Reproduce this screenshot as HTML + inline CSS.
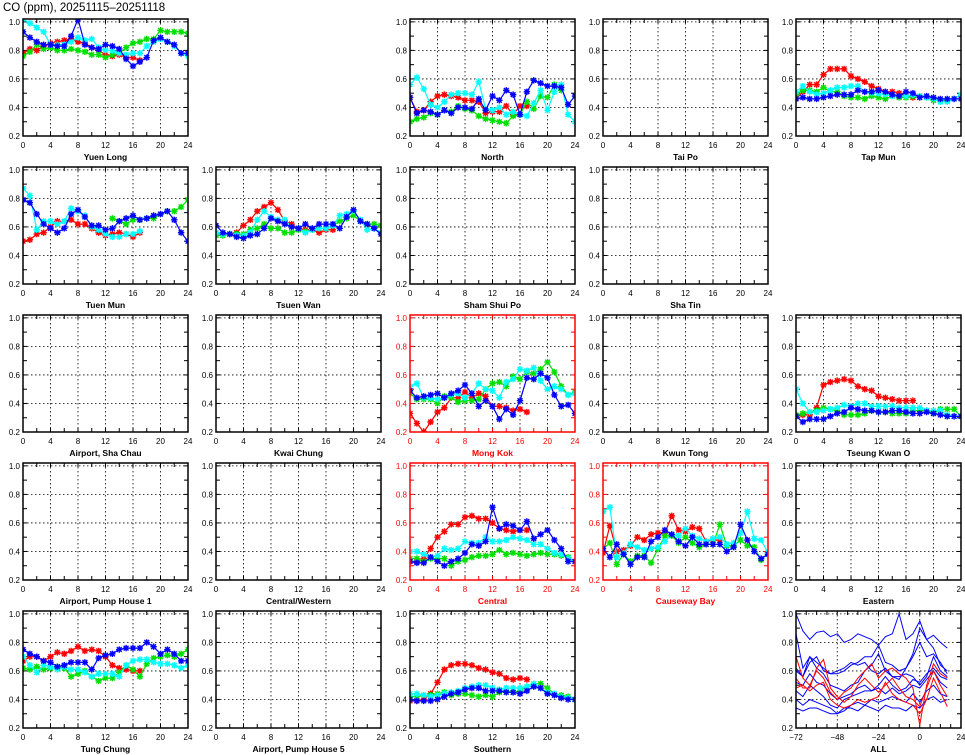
<!DOCTYPE html>
<html><head><meta charset="utf-8"><title>CO (ppm)</title>
<style>
html,body{margin:0;padding:0;background:#fff;}
svg{display:block;font-family:"Liberation Sans",sans-serif;}
</style></head>
<body>
<svg id="chart" width="965" height="755" viewBox="0 0 965 755" xmlns="http://www.w3.org/2000/svg">
<text x="3" y="11" font-size="11.5" fill="#000">CO (ppm), 20251115–20251118</text>
</svg>
<script>
const N=null;
const yTicks=[0.2,0.4,0.6,0.8,1.0];
const yTickLabels=["0.2","0.4","0.6","0.8","1.0"];
const xTicks=[0,4,8,12,16,20,24];
const allXTicks=[-72,-48,-24,0,24];
const stationNames=["Yuen Long","North","Tai Po","Tap Mun","Tuen Mun","Tsuen Wan","Sham Shui Po","Sha Tin","Airport, Sha Chau","Kwai Chung","Mong Kok","Kwun Tong","Tseung Kwan O","Airport, Pump House 1","Central/Western","Central","Causeway Bay","Eastern","Tung Chung","Airport, Pump House 5","Southern","ALL"];
const stationCells=[[0,0],[0,2],[0,3],[0,4],[1,0],[1,1],[1,2],[1,3],[2,0],[2,1],[2,2],[2,3],[2,4],[3,0],[3,1],[3,2],[3,3],[3,4],[4,0],[4,1],[4,2],[4,4]];
const redStations=["Mong Kok","Central","Causeway Bay"];
const seriesColors=["#ff0000","#00e000","#00ffff","#0000ff"];

const yuenLongRed=[0.78,0.81,0.80,0.83,0.85,0.86,0.87,0.88,0.86,0.85,0.82,0.80,0.77,0.76,0.77,0.75,0.75,0.73];
const yuenLongGreen=[0.76,0.79,0.84,0.81,0.82,0.80,0.80,0.81,0.80,0.79,0.77,0.77,0.75,0.77,0.78,0.82,0.85,0.86,0.88,0.88,0.94,0.93,0.93,0.93,0.92];
const yuenLongCyan=[1.02,0.99,0.96,0.93,0.84,0.84,0.84,0.86,0.89,0.87,0.88,0.82,0.80,0.80,0.78,0.77,0.78,0.78,0.83,0.86,0.88,0.86,0.83,0.78,0.76];
const yuenLongBlue=[0.93,0.89,0.86,0.84,0.84,0.83,0.83,0.90,1.02,0.84,0.82,0.81,0.84,0.83,0.81,0.74,0.69,0.72,0.75,0.87,0.89,0.86,0.84,0.78,0.78];

const northRed=[0.47,0.37,0.38,0.44,0.48,0.49,0.48,0.47,0.45,0.45,0.44,0.36,0.37,0.37,0.41,0.35,0.41,0.41];
const northGreen=[0.30,0.32,0.33,0.36,0.35,0.38,0.37,0.41,0.39,0.38,0.34,0.32,0.31,0.30,0.29,0.34,0.35,0.44,0.39,0.48,0.47,0.56,0.52];
const northCyan=[0.56,0.61,0.53,0.42,0.40,0.44,0.49,0.50,0.50,0.49,0.58,0.39,0.38,0.40,0.35,0.37,0.35,0.34,0.43,0.52,0.38,0.51,0.56,0.35,0.30];
const northBlue=[0.47,0.36,0.38,0.37,0.35,0.38,0.36,0.40,0.40,0.39,0.46,0.38,0.48,0.45,0.52,0.49,0.35,0.51,0.59,0.57,0.55,0.55,0.54,0.42,0.48];

const tapMunRed=[0.46,0.51,0.56,0.56,0.63,0.67,0.67,0.67,0.62,0.60,0.58,0.55,0.53,0.51,0.51,0.50,0.48,0.47];
const tapMunGreen=[0.49,0.52,0.52,0.51,0.54,0.51,0.51,0.48,0.47,0.47,0.46,0.48,0.47,0.46,0.48,0.47,0.47,0.48,0.48,0.47,0.45,0.45,0.45];
const tapMunCyan=[0.51,0.55,0.51,0.49,0.50,0.52,0.54,0.54,0.55,0.55,0.51,0.50,0.50,0.49,0.48,0.48,0.48,0.49,0.48,0.47,0.46,0.44,0.44,0.46,0.49];
const tapMunBlue=[0.46,0.47,0.46,0.46,0.47,0.48,0.49,0.49,0.49,0.52,0.51,0.51,0.52,0.51,0.49,0.48,0.51,0.50,0.47,0.48,0.47,0.46,0.46,0.46,0.46];

const tuenMunRed=[0.50,0.51,0.55,0.56,0.60,0.64,0.64,0.65,0.62,0.62,0.59,0.56,0.54,0.55,0.56,0.55,0.53,0.56];
const tuenMunGreen=[N,N,N,N,N,N,N,N,N,N,N,N,N,0.66,0.64,0.62,0.65,0.65,0.66,0.66,0.69,0.71,0.71,0.74,0.79];
const tuenMunCyan=[0.87,0.82,0.58,0.64,0.64,0.62,0.64,0.73,0.71,0.68,0.60,0.58,0.55,0.53,0.53,0.55,0.55,0.57];
const tuenMunBlue=[0.79,0.77,0.69,0.62,0.59,0.56,0.59,0.69,0.72,0.67,0.61,0.61,0.58,0.59,0.64,0.66,0.68,0.65,0.66,0.68,0.69,0.71,0.65,0.56,0.50];

const tsuenWanRed=[0.55,0.55,0.55,0.56,0.61,0.65,0.71,0.74,0.77,0.72,0.64,0.62,0.59,0.58,0.58,0.56,0.58,0.58];
const tsuenWanGreen=[0.54,0.54,0.55,0.55,0.55,0.58,0.59,0.62,0.59,0.59,0.56,0.56,0.58,0.57,0.58,0.59,0.59,0.61,0.64,0.66,0.68,0.64,0.62,0.62,0.61];
const tsuenWanCyan=[0.56,0.55,0.55,0.54,0.54,0.56,0.65,0.71,0.67,0.65,0.65,0.60,0.59,0.56,0.58,0.59,0.59,0.61,0.68,0.69,0.71,0.65,0.58,0.59,0.56];
const tsuenWanBlue=[0.61,0.56,0.55,0.53,0.52,0.54,0.55,0.59,0.66,0.64,0.62,0.60,0.59,0.62,0.59,0.62,0.62,0.62,0.59,0.67,0.72,0.64,0.62,0.59,0.55];

const mongKokRed=[0.33,0.26,0.20,0.27,0.34,0.37,0.44,0.44,0.48,0.44,0.47,0.45,0.38,0.38,0.37,0.35,0.36,0.34];
const mongKokGreen=[0.47,0.43,0.43,0.43,0.40,0.45,0.44,0.41,0.42,0.42,0.43,0.50,0.54,0.55,0.52,0.59,0.57,0.62,0.61,0.64,0.69,0.62,0.52,0.46,0.48];
const mongKokCyan=[0.52,0.54,0.44,0.44,0.43,0.44,0.46,0.47,0.44,0.47,0.54,0.50,0.49,0.44,0.55,0.57,0.64,0.63,0.65,0.56,0.50,0.52,0.50,0.46,0.47];
const mongKokBlue=[0.49,0.44,0.45,0.46,0.47,0.44,0.47,0.49,0.53,0.47,0.38,0.42,0.38,0.29,0.36,0.32,0.42,0.58,0.57,0.61,0.58,0.46,0.38,0.39,0.33];

const tkoRed=[0.31,0.32,0.32,0.37,0.53,0.55,0.56,0.57,0.56,0.52,0.50,0.49,0.45,0.44,0.43,0.42,0.42,0.42];
const tkoGreen=[0.32,0.33,0.34,0.35,0.37,0.36,0.35,0.32,0.32,0.32,0.33,0.35,0.34,0.34,0.33,0.33,0.33,0.35,0.35,0.35,0.33,0.36,0.36,0.36,0.31];
const tkoCyan=[0.50,0.40,0.34,0.34,0.35,0.36,0.37,0.39,0.38,0.40,0.40,0.38,0.38,0.38,0.38,0.37,0.37,0.37,0.37,0.35,0.35,0.35,0.32,0.31,0.31];
const tkoBlue=[0.31,0.27,0.29,0.29,0.29,0.31,0.33,0.34,0.37,0.36,0.35,0.35,0.34,0.34,0.35,0.35,0.34,0.33,0.33,0.34,0.33,0.32,0.31,0.31,0.31];

const centralRed=[0.33,0.33,0.35,0.42,0.50,0.54,0.59,0.59,0.64,0.65,0.63,0.63,0.60,0.56,0.55,0.54,0.55,0.55];
const centralGreen=[0.35,0.35,0.33,0.35,0.35,0.35,0.30,0.33,0.34,0.36,0.37,0.37,0.38,0.41,0.38,0.39,0.38,0.37,0.38,0.39,0.38,0.38,0.37,0.36,0.33];
const centralCyan=[0.40,0.40,0.38,0.36,0.37,0.42,0.41,0.42,0.47,0.46,0.46,0.50,0.47,0.47,0.48,0.50,0.49,0.48,0.45,0.45,0.42,0.39,0.38,0.35,0.33];
const centralBlue=[0.33,0.32,0.32,0.36,0.33,0.30,0.33,0.35,0.39,0.45,0.44,0.47,0.71,0.56,0.59,0.58,0.55,0.61,0.49,0.52,0.55,0.48,0.42,0.33,0.33];

const causewayRed=[0.39,0.58,0.40,0.41,0.44,0.50,0.48,0.52,0.53,0.53,0.65,0.55,0.54,0.57,0.56,0.47,0.48,0.48];
const causewayGreen=[0.42,0.46,0.31,0.38,0.33,0.37,0.37,0.32,0.42,0.51,0.51,0.46,0.50,0.46,0.43,0.45,0.45,0.59,0.44,0.44,0.48,0.44,0.43,0.34,0.39];
const causewayCyan=[0.68,0.71,0.36,0.39,0.45,0.43,0.41,0.42,0.43,0.47,0.52,0.51,0.56,0.51,0.49,0.47,0.49,0.50,0.45,0.46,0.53,0.68,0.49,0.48,0.39];
const causewayBlue=[0.42,0.36,0.45,0.38,0.31,0.36,0.36,0.47,0.50,0.55,0.52,0.47,0.44,0.50,0.45,0.45,0.45,0.45,0.40,0.43,0.59,0.48,0.40,0.35,0.38];

const tungChungRed=[0.67,0.70,0.70,0.67,0.70,0.73,0.72,0.74,0.77,0.74,0.75,0.74,0.70,0.64,0.62,0.61,0.60,0.60];
const tungChungGreen=[0.62,0.61,0.63,0.61,0.62,0.63,0.62,0.56,0.58,0.60,0.56,0.53,0.55,0.55,0.59,0.64,0.61,0.56,0.65,0.69,0.70,0.71,0.70,0.72,0.75];
const tungChungCyan=[0.70,0.64,0.59,0.64,0.63,0.61,0.63,0.61,0.61,0.59,0.56,0.58,0.58,0.58,0.56,0.64,0.67,0.68,0.68,0.66,0.65,0.65,0.64,0.62,0.64];
const tungChungBlue=[0.75,0.72,0.70,0.67,0.66,0.63,0.64,0.66,0.66,0.66,0.61,0.69,0.71,0.72,0.75,0.76,0.76,0.76,0.80,0.77,0.72,0.75,0.72,0.67,0.67];

const southernRed=[0.39,0.39,0.40,0.44,0.52,0.61,0.64,0.65,0.65,0.64,0.62,0.61,0.59,0.58,0.55,0.54,0.55,0.54];
const southernGreen=[0.42,0.42,0.43,0.43,0.44,0.45,0.43,0.44,0.44,0.43,0.42,0.43,0.42,0.45,0.46,0.45,0.46,0.49,0.51,0.51,0.48,0.44,0.43,0.42,0.40];
const southernCyan=[0.44,0.44,0.43,0.42,0.43,0.44,0.45,0.46,0.48,0.49,0.50,0.50,0.48,0.47,0.48,0.48,0.48,0.49,0.51,0.48,0.45,0.44,0.42,0.41,0.40];
const southernBlue=[0.40,0.39,0.39,0.39,0.40,0.42,0.44,0.45,0.47,0.48,0.48,0.46,0.46,0.46,0.45,0.45,0.44,0.46,0.49,0.48,0.44,0.43,0.41,0.40,0.40];

const allHours=[-72,-68,-64,-60,-56,-52,-48,-44,-40,-36,-32,-28,-24,-20,-16,-12,-8,-4,0,4,8,12,16];
const allBlue1=[1.0,0.88,0.82,0.87,0.88,0.84,0.86,0.80,0.82,0.86,0.84,0.82,0.78,0.84,0.86,1.0,0.82,0.86,0.95,0.82,0.85,0.80,0.76];
const allBlue2=[0.86,0.62,0.70,0.66,0.62,0.58,0.58,0.60,0.64,0.66,0.70,0.70,0.78,0.66,0.64,0.60,0.62,0.72,0.90,0.82,0.76,0.64,0.60];
const allBlue3=[0.60,0.56,0.70,0.62,0.58,0.50,0.48,0.46,0.50,0.52,0.60,0.64,0.72,0.60,0.56,0.54,0.62,0.70,0.80,0.70,0.72,0.66,0.58];
const allBlue4=[0.52,0.50,0.58,0.52,0.50,0.44,0.40,0.42,0.44,0.48,0.50,0.46,0.50,0.56,0.50,0.46,0.48,0.54,0.52,0.58,0.62,0.56,0.54];
const allBlue5=[0.46,0.42,0.50,0.46,0.42,0.36,0.34,0.40,0.42,0.44,0.46,0.46,0.48,0.44,0.48,0.44,0.46,0.50,0.48,0.54,0.60,0.52,0.48];
const allBlue6=[0.40,0.36,0.40,0.38,0.36,0.34,0.30,0.32,0.36,0.38,0.36,0.40,0.38,0.40,0.42,0.40,0.38,0.44,0.38,0.46,0.50,0.44,0.42];
const allBlue7=[0.34,0.32,0.34,0.34,0.32,0.30,0.30,0.34,0.34,0.32,0.36,0.34,0.32,0.36,0.34,0.34,0.32,0.36,0.34,0.40,0.42,0.38,0.40];
const allBlue8=[0.62,0.56,0.66,0.70,0.60,0.58,0.60,0.62,0.66,0.64,0.66,0.60,0.58,0.62,0.56,0.56,0.58,0.56,0.50,0.56,0.70,0.60,0.56];
const allRed1=[0.70,0.55,0.50,0.60,0.55,0.45,0.40,0.45,0.48,0.55,0.60,0.65,0.55,0.60,0.62,0.58,0.55,0.48,0.22,0.50,0.65,0.58,0.55];
const allRed2=[0.55,0.48,0.48,0.62,0.68,0.48,0.42,0.38,0.42,0.50,0.55,0.50,0.45,0.50,0.55,0.48,0.42,0.40,0.35,0.48,0.60,0.50,0.42];
const allRed3=[0.48,0.50,0.46,0.50,0.52,0.40,0.36,0.34,0.36,0.40,0.38,0.40,0.42,0.52,0.44,0.40,0.38,0.36,0.30,0.40,0.55,0.45,0.35];

const stationSeries={
 "Yuen Long":[yuenLongRed,yuenLongGreen,yuenLongCyan,yuenLongBlue],
 "North":[northRed,northGreen,northCyan,northBlue],
 "Tap Mun":[tapMunRed,tapMunGreen,tapMunCyan,tapMunBlue],
 "Tuen Mun":[tuenMunRed,tuenMunGreen,tuenMunCyan,tuenMunBlue],
 "Tsuen Wan":[tsuenWanRed,tsuenWanGreen,tsuenWanCyan,tsuenWanBlue],
 "Mong Kok":[mongKokRed,mongKokGreen,mongKokCyan,mongKokBlue],
 "Tseung Kwan O":[tkoRed,tkoGreen,tkoCyan,tkoBlue],
 "Central":[centralRed,centralGreen,centralCyan,centralBlue],
 "Causeway Bay":[causewayRed,causewayGreen,causewayCyan,causewayBlue],
 "Tung Chung":[tungChungRed,tungChungGreen,tungChungCyan,tungChungBlue],
 "Southern":[southernRed,southernGreen,southernCyan,southernBlue]
};
const allBlueLines=[allBlue1,allBlue2,allBlue3,allBlue4,allBlue5,allBlue6,allBlue7,allBlue8];
const allRedLines=[allRed1,allRed2,allRed3];

const NS="http://www.w3.org/2000/svg";
const svg=document.getElementById('chart');
const colLeft=[23,216,410,603,796], rowTop=[19,167,315,463,611], PW=165, PH=117, YMIN=0.2, YMAX=1.02;
function mk(tag,attrs,parent){const e=document.createElementNS(NS,tag);for(const k in attrs)e.setAttribute(k,attrs[k]);parent.appendChild(e);return e;}
function slug(s){return s.toLowerCase().replace(/[^a-z0-9]+/g,'-').replace(/^-|-$/g,'');}

stationNames.forEach((name,i)=>{
 const [r,c]=stationCells[i];
 const L=colLeft[c], T=rowTop[r], B=T+PH, R=L+PW;
 const isAll=name==="ALL";
 const xmin=isAll?-72:0, xmax=isAll?24:24;
 const xs=v=>L+(v-xmin)/(xmax-xmin)*PW;
 const ys=v=>B-(v-YMIN)/(YMAX-YMIN)*PH;
 const col=redStations.includes(name)?"#ff0000":"#000";
 const g=mk('g',{},svg);
 
 
 // grid
 yTicks.forEach(v=>{ if(v>YMIN){const l=mk('line',{x1:L,x2:R,y1:ys(v),y2:ys(v),stroke:'#000','stroke-width':0.8,'stroke-dasharray':'1.5,2.5'},g);
  
  }});
 const xt=isAll?allXTicks:xTicks;
 xt.forEach(v=>{ if(v>xmin&&v<xmax){const l=mk('line',{x1:xs(v),x2:xs(v),y1:T,y2:B,stroke:'#000','stroke-width':0.8,'stroke-dasharray':'1.5,2.5'},g);
  
  }});
 // minor ticks
 for(let v=0.3;v<1.0;v+=0.1){const y=ys(v);mk('line',{x1:L,x2:L+4,y1:y,y2:y,stroke:col,'stroke-width':1},g);mk('line',{x1:R-4,x2:R,y1:y,y2:y,stroke:col,'stroke-width':1},g);}
 const step=isAll?6:2;
 for(let v=xmin+step;v<xmax;v+=step){const x=xs(v);mk('line',{x1:x,x2:x,y1:B-4,y2:B,stroke:col,'stroke-width':1},g);mk('line',{x1:x,x2:x,y1:T,y2:T+4,stroke:col,'stroke-width':1},g);}
 // labels
 yTicks.forEach((v,k)=>{const t=mk('text',{x:L-3,y:ys(v)+3,'font-size':8,'text-anchor':'end',fill:col},g);t.textContent=yTickLabels[k];
  
  });
 xt.forEach(v=>{const t=mk('text',{x:xs(v),y:B+12,'font-size':8,'text-anchor':'middle',fill:col},g);t.textContent=String(v).replace('-','−');
  
  });
 const tt=mk('text',{x:L+PW/2,y:B+24,'font-size':8.5,'font-weight':'bold','text-anchor':'middle',fill:col},g);
 tt.textContent=name;
 
 
 // series
 const clipId='clip'+i;
 const cp=mk('clipPath',{id:clipId},g);mk('rect',{x:L,y:T,width:PW,height:PH},cp);
 const sg=mk('g',{'clip-path':'url(#'+clipId+')'},g);
 if(isAll){
  const drawLine=(arr,color)=>{let d='';arr.forEach((v,k)=>{d+=(k?'L':'M')+xs(allHours[k]).toFixed(1)+','+ys(v).toFixed(1);});
   const p=mk('path',{d:d,fill:'none',stroke:color,'stroke-width':1},sg);
   
   };
  allBlueLines.forEach(a=>drawLine(a,'#0000ff'));
  allRedLines.forEach(a=>drawLine(a,'#ff0000'));
 } else if(stationSeries[name]){
  stationSeries[name].forEach((arr,si)=>{
   const color=seriesColors[si];
   let d='',pen=false;
   arr.forEach((v,h)=>{if(v===null){pen=false;return;}d+=(pen?'L':'M')+xs(h).toFixed(1)+','+ys(v).toFixed(1);pen=true;});
   const p=mk('path',{d:d,fill:'none',stroke:color,'stroke-width':1.2},sg);
   
   
   arr.forEach((v,h)=>{if(v===null)return;const x=xs(h),y=ys(v),s=3.2;
    const m=mk('path',{d:`M${x-s},${y}H${x+s}M${x},${y-s}V${y+s}M${x-s*0.75},${y-s*0.75}L${x+s*0.75},${y+s*0.75}M${x-s*0.75},${y+s*0.75}L${x+s*0.75},${y-s*0.75}`,stroke:color,'stroke-width':1.4,fill:'none'},sg);
    
    });
  });
 }
 const fr=mk('rect',{x:L,y:T,width:PW,height:PH,fill:'none',stroke:col,'stroke-width':1.5},g);
 
 
});
</script>
</body></html>
